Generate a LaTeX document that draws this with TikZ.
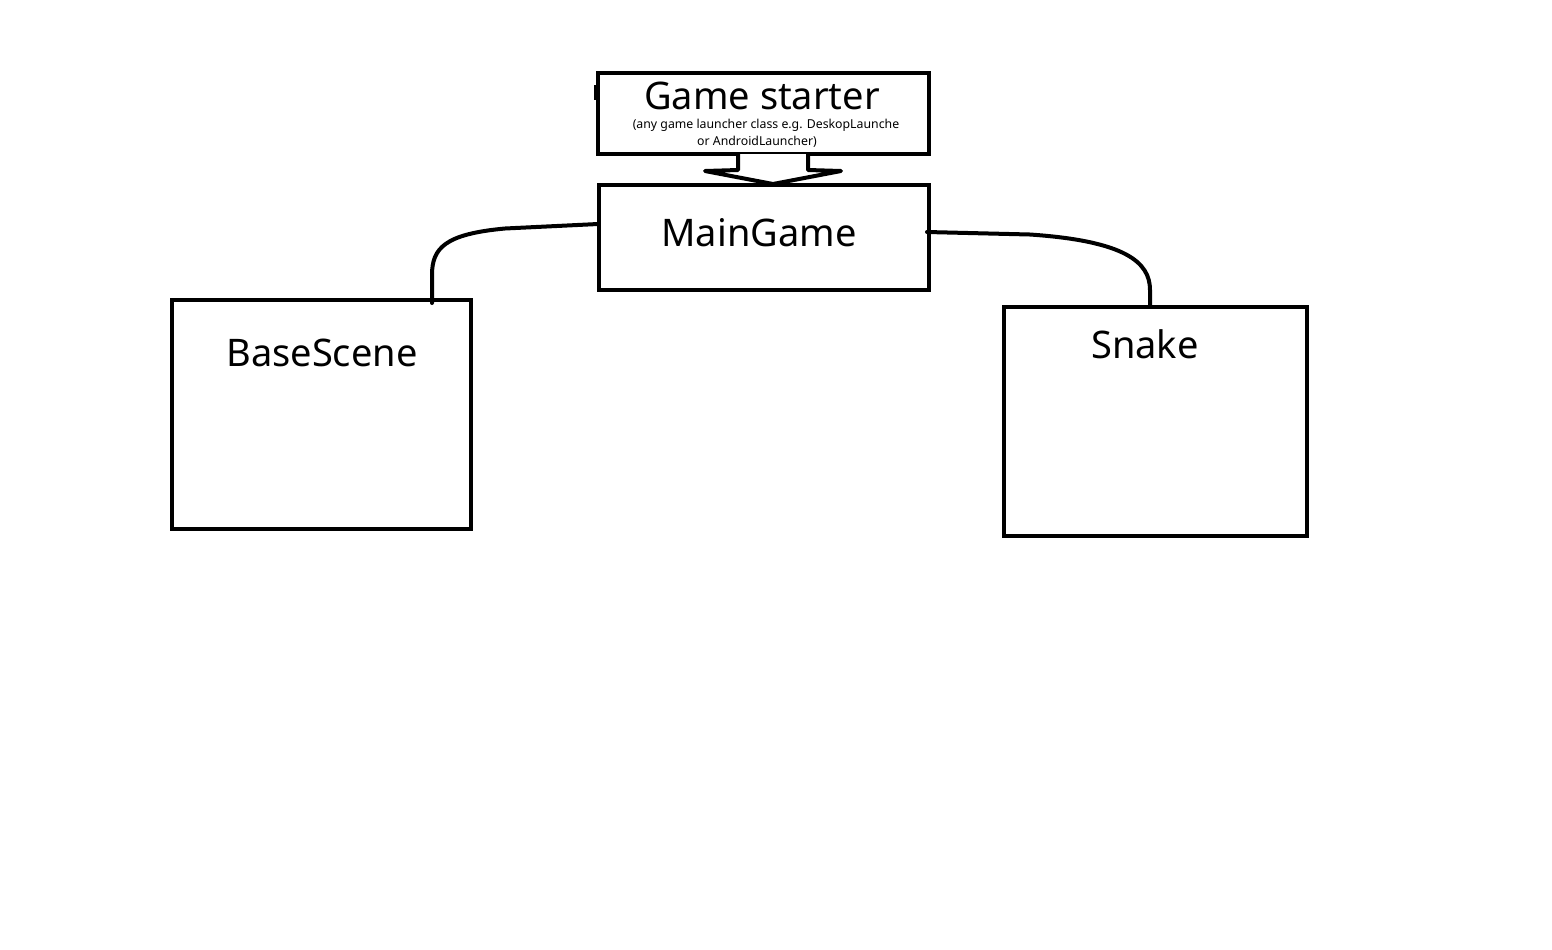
\documentclass[tikz,border=0pt]{standalone}
\usepackage{fontspec}
\setmainfont{Noto Sans}
\begin{document}
\begin{tikzpicture}[x=0.5pt,y=-0.5pt,
  box/.style={draw=black,line width=2pt,fill=white,inner sep=0pt},
  big/.style={font=\fontsize{19}{20}\selectfont,inner sep=0pt},
  small/.style={font=\fontsize{6.15}{8}\selectfont,inner sep=0pt},
  conn/.style={draw=black,line width=2pt,line cap=round}]
\useasboundingbox (0,0) rectangle (1552,949);
% boxes
\node[box,minimum width=165.5pt,minimum height=40.5pt] (gs) at (763.5,113.5) {};
\node[box,minimum width=165pt,minimum height=52.5pt] (mg) at (764,237.5) {};
\node[box,minimum width=149.5pt,minimum height=114.5pt] (bs) at (321.5,414.5) {};
\node[box,minimum width=151.5pt,minimum height=114.5pt] (sn) at (1155.5,421.5) {};
% block arrow
\draw[line width=2pt,fill=white,line join=round] (738,154) -- (738,170) -- (705,171) -- (773,184) -- (841,171) -- (808,170) -- (808,154);
% texts
\node[big,anchor=base] (gst) at (762,109) {Game starter};
\node[small,anchor=base] (gs1) at (766,128.5) {(any game launcher class e.g. DeskopLaunche};
\node[small,anchor=base] (gs2) at (757,145) {or AndroidLauncher)};
\node[big,anchor=base] (mgt) at (759,246) {MainGame};
\node[big,anchor=base] (bst) at (322,366) {BaseScene};
\node[big,anchor=base] (snt) at (1145,358) {Snake};
% stray mark
\draw[line width=2.5pt] (596.5,85) -- (596.5,100);
% connectors
\coordinate (l1) at (598,224);
\coordinate (l2) at (432,303);
\coordinate (r1) at (927,232);
\coordinate (r2) at (1150,305);
\draw[conn] (l1) -- (505,228.5) .. controls (445,234) and (432,248) .. (432,275) -- (l2);
\draw[conn] (r1) -- (1030,234.5) .. controls (1125,241) and (1150,262) .. (1150,290) -- (r2);
\end{tikzpicture}
\end{document}
